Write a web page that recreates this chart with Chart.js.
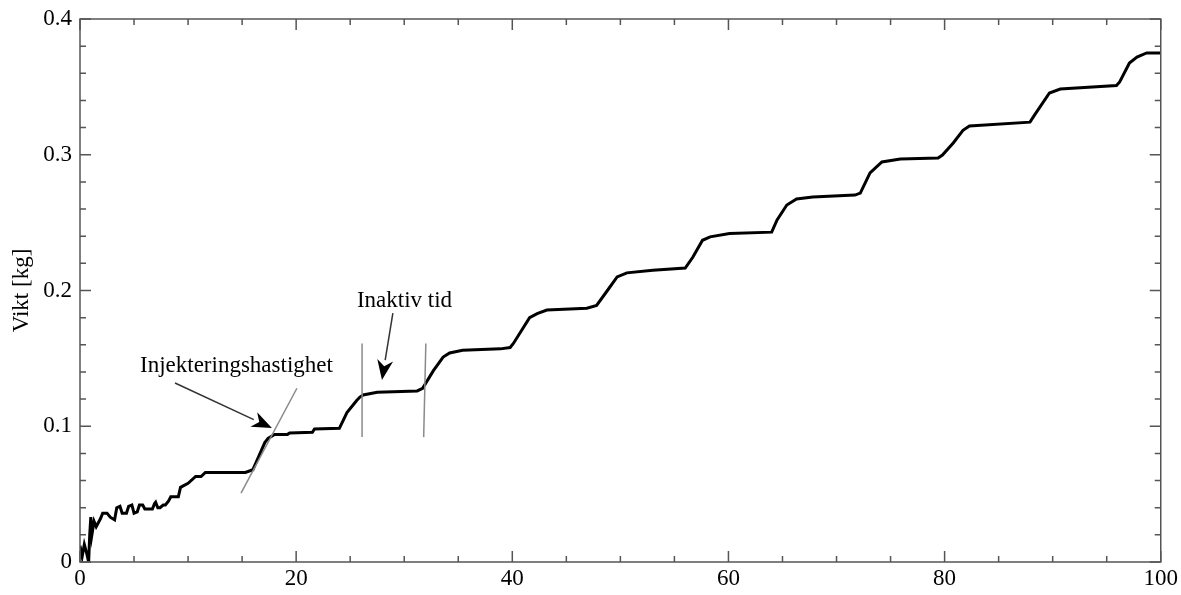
<!DOCTYPE html>
<html>
<head>
<meta charset="utf-8">
<script src="https://cdn.jsdelivr.net/npm/chart.js@4.4.1/dist/chart.umd.min.js"></script>
<style>
  html, body { margin: 0; padding: 0; background: #fff; }
  #wrap { width: 1181px; height: 595px; }
</style>
</head>
<body>
<div id="wrap"><canvas id="chart"></canvas></div>
<script>
const time = [
  0.0, 0.2, 0.4, 0.6, 0.8, 0.9, 1.0, 1.1, 1.3, 1.5, 1.9, 2.1, 2.5, 2.8, 3.2, 3.4, 3.7, 3.9,
  4.3, 4.5, 4.8, 5.0, 5.3, 5.5, 5.8, 6.0, 6.7, 6.9, 7.0, 7.2, 7.4, 7.7, 7.9, 8.2, 8.4, 9.1,
  9.3, 10.0, 10.7, 11.2, 11.6, 12.5, 15.3, 16.0, 16.5, 17.1, 17.4, 18.0, 19.2, 19.4, 21.5, 21.7,
  24.0, 24.7, 25.6, 25.9, 26.2, 27.5, 31.2, 31.7, 32.7, 33.6, 34.2, 35.4, 38.9, 39.8, 40.1, 41.6,
  42.3, 43.2, 46.9, 47.8, 48.8, 49.7, 50.6, 53.0, 56.0, 56.7, 57.6, 58.3, 60.1, 64.0, 64.5, 65.4,
  66.3, 67.8, 71.7, 72.2, 73.1, 74.2, 75.9, 79.4, 79.8, 80.8, 81.7, 82.3, 87.9, 88.3, 89.7, 90.7,
  95.9, 96.2, 97.1, 97.8, 98.7, 100.0
];
const weight = [
  0.012, 0.004, 0.013, 0.007, 0.000, 0.020, 0.033, 0.020, 0.030, 0.026, 0.032, 0.036, 0.036, 0.033, 0.031, 0.040, 0.041, 0.036,
  0.036, 0.041, 0.042, 0.036, 0.037, 0.042, 0.042, 0.039, 0.039, 0.043, 0.044, 0.040, 0.040, 0.042, 0.042, 0.045, 0.048, 0.048,
  0.055, 0.058, 0.063, 0.063, 0.066, 0.066, 0.066, 0.068, 0.077, 0.088, 0.091, 0.094, 0.094, 0.095, 0.0955, 0.098,
  0.0985, 0.110, 0.119, 0.1215, 0.123, 0.125, 0.126, 0.128, 0.141, 0.151, 0.154, 0.156, 0.157, 0.158, 0.161, 0.180,
  0.183, 0.1856, 0.187, 0.189, 0.200, 0.210, 0.213, 0.215, 0.2165, 0.2245, 0.237, 0.2395, 0.242, 0.243, 0.252, 0.263,
  0.2674, 0.2689, 0.2703, 0.2718, 0.2866, 0.2947, 0.2969, 0.2976, 0.2998, 0.3087, 0.318, 0.3212, 0.324, 0.329, 0.3455, 0.3484,
  0.351, 0.3536, 0.3676, 0.372, 0.375, 0.375
];

// Helper lines drawn on the plot (rate slope and the idle-time bounds)
const slopeX = [14.9, 20.07];
const slopeY = [0.0508, 0.128];
const idleStartX = [26.1, 26.1];
const idleEndX = [31.8, 32.0];
const idleY = [0.092, 0.161];

const xTicks = [0, 20, 40, 60, 80, 100];
const yTicks = [0, 0.1, 0.2, 0.3, 0.4];

const serif = '"Liberation Serif", "DejaVu Serif", serif';

const pts = (xs, ys) => xs.map((x, i) => ({ x: x, y: ys[i] }));

// Frame, inward ticks and the two annotations
const framePlugin = {
  id: 'frame',
  afterDatasetsDraw(chart) {
    const { ctx, chartArea: a, scales: { x, y } } = chart;
    ctx.save();
    ctx.strokeStyle = '#555';
    ctx.lineWidth = 1.5;
    ctx.strokeRect(a.left, a.top, a.right - a.left, a.bottom - a.top);

    ctx.beginPath();
    for (let v = 0; v <= 100; v += 5) {
      const px = x.getPixelForValue(v);
      const len = v % 20 === 0 ? 11 : 6;
      ctx.moveTo(px, a.bottom); ctx.lineTo(px, a.bottom - len);
      ctx.moveTo(px, a.top); ctx.lineTo(px, a.top + len);
    }
    for (let i = 0; i <= 20; i++) {
      const py = y.getPixelForValue(i * 0.02);
      const len = i % 5 === 0 ? 11 : 6;
      ctx.moveTo(a.left, py); ctx.lineTo(a.left + len, py);
      ctx.moveTo(a.right, py); ctx.lineTo(a.right - len, py);
    }
    ctx.stroke();

    // annotations
    const arrow = (x0, y0, x1, y1) => {
      const ax = x.getPixelForValue(x0), ay = y.getPixelForValue(y0);
      const bx = x.getPixelForValue(x1), by = y.getPixelForValue(y1);
      const ang = Math.atan2(by - ay, bx - ax);
      const hl = 20, hw = 8;
      const baseX = bx - hl * Math.cos(ang), baseY = by - hl * Math.sin(ang);
      ctx.strokeStyle = '#333';
      ctx.lineWidth = 1.5;
      ctx.beginPath();
      ctx.moveTo(ax, ay); ctx.lineTo(baseX, baseY);
      ctx.stroke();
      ctx.fillStyle = '#000';
      ctx.beginPath();
      ctx.moveTo(bx, by);
      ctx.lineTo(baseX + hw * Math.sin(ang), baseY - hw * Math.cos(ang));
      ctx.lineTo(bx - hl * 0.7 * Math.cos(ang), by - hl * 0.7 * Math.sin(ang));
      ctx.lineTo(baseX - hw * Math.sin(ang), baseY + hw * Math.cos(ang));
      ctx.closePath();
      ctx.fill();
    };
    arrow(8.79, 0.1319, 17.76, 0.0987);
    arrow(28.95, 0.1834, 27.94, 0.1341);

    ctx.fillStyle = '#000';
    ctx.font = '23px ' + serif;
    ctx.textAlign = 'left';
    ctx.textBaseline = 'alphabetic';
    ctx.fillText('Injekteringshastighet', x.getPixelForValue(5.55), y.getPixelForValue(0.140));
    ctx.fillText('Inaktiv tid', x.getPixelForValue(25.62), y.getPixelForValue(0.1878));
    ctx.restore();
  }
};

const guide = { borderColor: '#8a8a8a', borderWidth: 1.5, pointRadius: 0, showLine: true, fill: false };

new Chart(document.getElementById('chart'), {
  type: 'scatter',
  data: {
    datasets: [
      Object.assign({ data: pts(slopeX, slopeY) }, guide),
      Object.assign({ data: pts(idleStartX, idleY) }, guide),
      Object.assign({ data: pts(idleEndX, idleY) }, guide),
      {
        label: 'Vikt',
        data: pts(time, weight),
        showLine: true,
        borderColor: '#000',
        borderWidth: 3,
        pointRadius: 0,
        tension: 0
      }
    ]
  },
  options: {
    responsive: true,
    maintainAspectRatio: false,
    animation: false,
    layout: { padding: { top: 19, right: 20, left: 0, bottom: 0 } },
    plugins: { legend: { display: false }, tooltip: { enabled: false } },
    scales: {
      x: {
        type: 'linear',
        min: 0, max: 100,
        afterFit: s => { s.height = 33; },
        afterBuildTicks: s => { s.ticks = xTicks.map(v => ({ value: v })); },
        grid: { display: false, drawTicks: false },
        border: { display: false },
        ticks: { color: '#000', font: { family: serif, size: 23 }, padding: 3, maxRotation: 0, callback: v => String(v) }
      },
      y: {
        type: 'linear',
        min: 0, max: 0.4,
        afterFit: s => { s.width = 80; s.paddingTop = 0; s.paddingBottom = 0; },
        afterBuildTicks: s => { s.ticks = yTicks.map(v => ({ value: v })); },
        grid: { display: false, drawTicks: false },
        border: { display: false },
        title: { display: true, text: 'Vikt [kg]', color: '#000', font: { family: serif, size: 23 }, padding: { top: 8, bottom: 0 } },
        ticks: { color: '#000', font: { family: serif, size: 23, lineHeight: 1 }, padding: 8, callback: v => v === 0 ? '0' : v.toFixed(1) }
      }
    }
  },
  plugins: [framePlugin]
});
</script>
</body>
</html>
